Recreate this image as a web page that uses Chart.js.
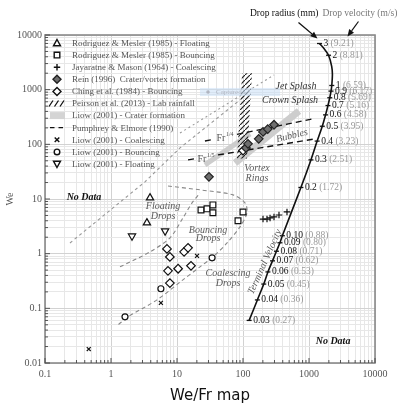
<!DOCTYPE html>
<html><head><meta charset="utf-8">
<script src="https://cdn.jsdelivr.net/npm/chart.js@4.4.1/dist/chart.umd.min.js"></script>
<style>html,body{margin:0;padding:0;background:#fff;}</style>
</head><body>
<canvas id="c" width="400" height="412" style="width:400px;height:412px;display:block"></canvas>
<script>
// ---------------- DATA ----------------
const xTickLabels = ['0.1','1','10','100','1000','10000'];
const yTickLabels = ['0.01','0.1','1','10','100','1000','10000'];

const rmFloatFr = [3.9, 3.5];
const rmFloatWe = [10.5, 3.66];
const rmBounceFr = [23.1, 28.5, 35, 35, 100, 84];
const rmBounceWe = [6.3, 6.6, 7.8, 5.6, 5.8, 4.0];
const jmCoalFr = [201, 231, 257, 295, 351, 464];
const jmCoalWe = [4.3, 4.3, 4.5, 4.7, 5.1, 5.8];
const reinFr = [30.5, 111, 119, 173, 201, 237, 295];
const reinWe = [25.4, 86, 102, 126, 169, 190, 228];
const chingFr = [7.05, 7.8, 12.8, 14.7, 16.3, 10.4, 7.3, 7.8, 100];
const chingWe = [1.22, 0.87, 1.08, 1.28, 0.6, 0.53, 0.485, 0.29, 77];
const liowCoalFr = [20.1, 5.7, 0.46];
const liowCoalWe = [0.91, 0.126, 0.018];
const liowBounceFr = [5.7, 34, 1.63];
const liowBounceWe = [0.228, 0.84, 0.07];
const liowFloatFr = [2.08, 6.6];
const liowFloatWe = [2.1, 2.6];

// Peirson lab rainfall strip (polygon corners)
const peirsonFr = [97, 137, 115, 81, 97];
const peirsonWe = [2000, 2000, 55, 55, 2000];
// Liow crater formation bands
const craterAFr = [26.5, 128];
const craterAWe = [42, 155];
const craterBFr = [75.7, 705];
const craterBWe = [45.7, 408];
// Pumphrey & Elmore lines (Fr^1/4, Fr^1/5) with a gap for their labels
const pe14Fr = [26.5, 33.9, null, 81, 1151];
const pe14We = [115, 122, null, 152, 293];
const pe15Fr = [14.7, 18.7, null, 41.8, 1151];
const pe15We = [51.9, 54.5, null, 64, 124];
// region boundaries (grey dashed)
const bndUpperFr = [0.239, 3.27, 11.1, 90];
const bndUpperWe = [1.57, 20.6, 86, 649];
const bndJetFr = [11.1, 295];
const bndJetWe = [161, 1858];
const bndFloatFr = [1.37, 3.9, 7.83, 12.3, 16.9, 22.3];
const bndFloatWe = [0.574, 1.08, 1.95, 4.5, 8.5, 12.9];
const bndBounceFr = [7.31, 22.3, 70.5, 107, 115, 90, 57.3, 35.1, 22.3, 12.3, 4.98, 1.81, 1.28];
const bndBounceWe = [17.3, 14.7, 11.9, 8.5, 5.57, 3.09, 1.57, 0.873, 0.574, 0.332, 0.143, 0.07, 0.0499];

// Terminal velocity curve
const tvRadius   = ['0.03','0.04','0.05','0.06','0.07','0.08','0.09','0.10','0.2','0.3','0.4','0.5','0.6','0.7','0.8','0.9','1',null,null,'2',null,'3'];
const tvVelocity = ['0.27','0.36','0.45','0.53','0.62','0.71','0.80','0.88','1.72','2.51','3.23','3.95','4.58','5.16','5.69','6.17','6.59',null,null,'8.81',null,'9.21'];
const tvFr = [123.9, 165.1, 206.4, 238.6, 279.9, 321.2, 362.5, 394.7, 754, 1070, 1329, 1590, 1782, 1939, 2063, 2156, 2214, 2263, 2207, 1978, 1684, 1441];
const tvWe = [0.0601, 0.1424, 0.278, 0.463, 0.739, 1.108, 1.582, 2.127, 16.25, 51.9, 114.6, 214.3, 345.8, 512, 711.5, 941, 1193, 1906, 2677, 4264, 5674, 6990];

const legendItems = [
  'Rodriguez & Mesler (1985) - Floating',
  'Rodriguez & Mesler (1985) - Bouncing',
  'Jayaratne & Mason (1964) - Coalescing',
  'Rein (1996)  Crater/vortex formation',
  'Ching et al. (1984) - Bouncing',
  'Peirson et al. (2013) - Lab rainfall',
  'Liow (2001) - Crater formation',
  'Pumphrey & Elmore (1990)',
  'Liow (2001) - Coalescing',
  'Liow (2001) - Bouncing',
  'Liow (2001) - Floating'
];
const legendMarks = ['tri','sq','plus','dfill','dopen','hatch','band','dash','x','circ','tridown'];

const notes = [
  {t:'No Data', x:0.39, y:10.9, kind:'nodata'},
  {t:'No Data', x:2312, y:0.0244, kind:'nodata'},
  {t:'Floating', x:6.14, y:7.18, kind:'region'},
  {t:'Drops', x:6.14, y:4.9, kind:'region'},
  {t:'Bouncing', x:29.5, y:2.72, kind:'region'},
  {t:'Drops', x:29.5, y:1.87, kind:'region'},
  {t:'Coalescing', x:59.3, y:0.428, kind:'region'},
  {t:'Drops', x:59.3, y:0.292, kind:'region'},
  {t:'Vortex', x:163, y:37, kind:'region'},
  {t:'Rings', x:163, y:24.3, kind:'region'},
  {t:'Bubbles', x:552, y:143, kind:'region', rot:-14},
  {t:'Jet Splash', x:635, y:1170, kind:'splash'},
  {t:'Crown Splash', x:516, y:649, kind:'splash'},
  {t:'Terminal Velocity', x:215, y:0.708, kind:'region', rot:-66}
];
const frNotes = [
  {base:'Fr', sup:'1/4', x:46.4, y:126},
  {base:'Fr', sup:'1/5', x:23.9, y:52}
];

// ---------------- HELPERS ----------------
const SERIF = '"Liberation Serif", "Times New Roman", serif';
function pts(xs, ys){ return xs.map((x,i)=>({x:x, y:ys[i]})); }

function makeHatch(){
  const c = document.createElement('canvas'); c.width = 5; c.height = 5;
  const g = c.getContext('2d');
  g.strokeStyle = '#222'; g.lineWidth = 1.2;
  g.beginPath(); g.moveTo(-1,6); g.lineTo(6,-1); g.stroke();
  return g.createPattern(c,'repeat');
}
const hatchPattern = makeHatch();

function marker(ctx, type, x, y){
  ctx.save();
  ctx.strokeStyle = '#111'; ctx.fillStyle = '#fff'; ctx.lineWidth = 1.4; ctx.setLineDash([]);
  ctx.beginPath();
  switch(type){
    case 'tri': ctx.moveTo(x,y-3.5); ctx.lineTo(x+3.5,y+2.8); ctx.lineTo(x-3.5,y+2.8); ctx.closePath(); ctx.fill(); ctx.stroke(); break;
    case 'tridown': ctx.moveTo(x,y+3.5); ctx.lineTo(x+3.5,y-2.8); ctx.lineTo(x-3.5,y-2.8); ctx.closePath(); ctx.fill(); ctx.stroke(); break;
    case 'sq': ctx.rect(x-2.8,y-2.8,5.6,5.6); ctx.fill(); ctx.stroke(); break;
    case 'plus': ctx.moveTo(x-3.2,y); ctx.lineTo(x+3.2,y); ctx.moveTo(x,y-3.2); ctx.lineTo(x,y+3.2); ctx.stroke(); break;
    case 'x': ctx.moveTo(x-2.3,y-2.3); ctx.lineTo(x+2.3,y+2.3); ctx.moveTo(x+2.3,y-2.3); ctx.lineTo(x-2.3,y+2.3); ctx.stroke(); break;
    case 'circ': ctx.arc(x,y,2.8,0,Math.PI*2); ctx.fill(); ctx.stroke(); break;
    case 'dfill': ctx.fillStyle='#6e6e6e'; ctx.strokeStyle='#222'; ctx.moveTo(x,y-4); ctx.lineTo(x+4,y); ctx.lineTo(x,y+4); ctx.lineTo(x-4,y); ctx.closePath(); ctx.fill(); ctx.stroke(); break;
    case 'dopen': ctx.moveTo(x,y-4); ctx.lineTo(x+4,y); ctx.lineTo(x,y+4); ctx.lineTo(x-4,y); ctx.closePath(); ctx.fill(); ctx.stroke(); break;
    case 'hatch':
      ctx.lineWidth = 1.3;
      for (let k=0;k<3;k++){ const xx = x-6+k*5.5; ctx.moveTo(xx-2,y+3); ctx.lineTo(xx+2,y-3); }
      ctx.stroke(); break;
    case 'band': ctx.fillStyle='#d4d4d4'; ctx.fillRect(x-7,y-3.5,15,7); break;
    case 'dash': ctx.lineWidth=1.3; ctx.moveTo(x-7,y); ctx.lineTo(x-2.5,y); ctx.moveTo(x+1.5,y); ctx.lineTo(x+6,y); ctx.stroke(); break;
  }
  ctx.restore();
}

function arrow(ctx, x1,y1,x2,y2){
  ctx.save(); ctx.strokeStyle='#111'; ctx.fillStyle='#111'; ctx.lineWidth=1.2;
  const a = Math.atan2(y2-y1, x2-x1), L=7, W=3;
  const bx = x2 - L*Math.cos(a), by = y2 - L*Math.sin(a);
  ctx.beginPath(); ctx.moveTo(x1,y1); ctx.lineTo(bx,by); ctx.stroke();
  ctx.beginPath(); ctx.moveTo(x2,y2);
  ctx.lineTo(bx + W*Math.sin(a), by - W*Math.cos(a));
  ctx.lineTo(bx - W*Math.sin(a), by + W*Math.cos(a));
  ctx.closePath(); ctx.fill(); ctx.restore();
}

function decadeTicks(min, max){
  const out = [];
  for (let e = Math.round(Math.log10(min)); e < Math.round(Math.log10(max)); e++){
    for (let m=1;m<10;m++) out.push({value: +(m*Math.pow(10,e)).toPrecision(6)});
  }
  out.push({value:max});
  return out;
}
function isDecade(v){ const l = Math.log10(v); return Math.abs(l-Math.round(l))<1e-9; }

// ---------------- PLUGIN ----------------
const decor = {
  id:'decor',
  afterDatasetsDraw(chart){
    const ctx = chart.ctx, ca = chart.chartArea, sx = chart.scales.x, sy = chart.scales.y;
    ctx.save();
    // "Captured" artifact box
    {
      const x1 = sx.getPixelForValue(22.3), x2 = sx.getPixelForValue(364);
      const y1 = sy.getPixelForValue(1074), y2 = sy.getPixelForValue(767);
      ctx.fillStyle='rgba(200,222,245,0.55)'; ctx.fillRect(x1,y1,x2-x1,y2-y1);
      ctx.fillStyle='rgba(150,150,160,0.6)'; ctx.beginPath(); ctx.arc(x1+8,(y1+y2)/2,1.8,0,7); ctx.fill();
      ctx.font = '7px '+SERIF; ctx.textBaseline='middle'; ctx.textAlign='left';
      ctx.fillText('Captured', x1+16, (y1+y2)/2);
    }
    // frame
    ctx.strokeStyle='#8a8a8a'; ctx.lineWidth=1.6; ctx.setLineDash([]);
    ctx.strokeRect(ca.left, ca.top, ca.right-ca.left, ca.bottom-ca.top);
    // inside ticks
    ctx.strokeStyle='#444'; ctx.lineWidth=0.9;
    ctx.beginPath();
    sx.ticks.forEach(t=>{ const p = sx.getPixelForValue(t.value); const L = isDecade(t.value)?5:3; ctx.moveTo(p, ca.bottom); ctx.lineTo(p, ca.bottom-L); });
    sy.ticks.forEach(t=>{ const p = sy.getPixelForValue(t.value); const L = isDecade(t.value)?5:3; ctx.moveTo(ca.left, p); ctx.lineTo(ca.left+L, p); });
    ctx.stroke();

    // legend
    legendItems.forEach((txt,i)=>{
      const y = 43 + 12.1*i;
      marker(ctx, legendMarks[i], 57, y);
      ctx.font = '9px '+SERIF; ctx.fillStyle='#555'; ctx.textAlign='left'; ctx.textBaseline='middle';
      ctx.fillText(txt, 72, y+0.5);
    });

    // region notes
    notes.forEach(n=>{
      const x = sx.getPixelForValue(n.x), y = sy.getPixelForValue(n.y);
      ctx.save(); ctx.translate(x,y); if (n.rot) ctx.rotate(n.rot*Math.PI/180);
      ctx.textAlign='center'; ctx.textBaseline='middle';
      if (n.kind==='nodata'){ ctx.font='italic bold 10px '+SERIF; ctx.fillStyle='#111'; }
      else if (n.kind==='splash'){ ctx.font='italic 10px '+SERIF; ctx.fillStyle='#333'; }
      else { ctx.font='italic 10px '+SERIF; ctx.fillStyle='#5a5a5a'; }
      ctx.fillText(n.t,0,0);
      ctx.restore();
    });
    // Fr labels
    frNotes.forEach(n=>{
      const x = sx.getPixelForValue(n.x), y = sy.getPixelForValue(n.y);
      ctx.font='10px '+SERIF; ctx.fillStyle='#555'; ctx.textAlign='center'; ctx.textBaseline='middle';
      ctx.fillText(n.base, x, y);
      const w = ctx.measureText(n.base).width;
      ctx.font='6px '+SERIF; ctx.textAlign='left';
      ctx.fillText(n.sup, x + w/2 + 0.5, y-4);
    });

    // terminal velocity labels
    const idx = chart.data.datasets.findIndex(d=>d.id==='tv');
    const meta = chart.getDatasetMeta(idx);
    let top = null;
    meta.data.forEach((el,i)=>{
      if (!tvRadius[i]) return;
      const x = el.x + 4, y = el.y;
      ctx.font='9.5px '+SERIF; ctx.textAlign='left'; ctx.textBaseline='middle';
      ctx.fillStyle='#111'; ctx.fillText(tvRadius[i], x, y);
      const w = ctx.measureText(tvRadius[i]+' ').width;
      ctx.fillStyle='#999'; ctx.fillText('('+tvVelocity[i]+')', x+w, y);
      if (tvRadius[i]==='3') top = el;
    });
    // top annotation texts and arrows
    if (top){
      ctx.font='9.5px '+SERIF; ctx.textBaseline='middle';
      ctx.textAlign='right'; ctx.fillStyle='#111'; ctx.fillText('Drop radius (mm)', top.x-1, 13);
      ctx.textAlign='left'; ctx.fillStyle='#777'; ctx.fillText('Drop velocity (m/s)', top.x+3, 13);
      arrow(ctx, top.x-21, top.y-21, top.x-2, top.y-5);
      arrow(ctx, top.x+39, top.y-22, top.x+28, top.y-7);
    }
    // axis titles
    ctx.save(); ctx.translate(10, sy.getPixelForValue(10)); ctx.rotate(-Math.PI/2);
    ctx.font='10px '+SERIF; ctx.fillStyle='#555'; ctx.textAlign='center'; ctx.textBaseline='middle';
    ctx.fillText('We',0,0); ctx.restore();
    ctx.font='15px "DejaVu Sans", sans-serif'; ctx.fillStyle='#111'; ctx.textAlign='center'; ctx.textBaseline='middle';
    ctx.fillText('We/Fr map', (ca.left+ca.right)/2, 396);
    ctx.restore();
  }
};

// ---------------- CHART ----------------
const mkScatter = (xs, ys, style, extra) => Object.assign({
  data: pts(xs, ys), showLine:false, pointStyle: style, pointRadius:4, pointHoverRadius:4,
  pointBackgroundColor:'#fff', pointBorderColor:'#111', pointBorderWidth:1.2, order:0
}, extra||{});
const mkLine = (xs, ys, extra) => Object.assign({
  data: pts(xs, ys), showLine:true, pointRadius:0, pointHoverRadius:0, fill:false,
  borderColor:'#888', borderWidth:1.1, borderDash:[4,3], spanGaps:false, order:3
}, extra||{});

const datasets = [
  mkScatter(rmFloatFr, rmFloatWe, 'triangle', {pointRadius:4.2}),
  mkScatter(rmBounceFr, rmBounceWe, 'rect', {pointRadius:4.1}),
  mkScatter(jmCoalFr, jmCoalWe, 'cross', {pointRadius:3.3}),
  mkScatter(reinFr, reinWe, 'rectRot', {pointBackgroundColor:'#6e6e6e', pointBorderColor:'#222', pointRadius:4.3}),
  mkScatter(chingFr, chingWe, 'rectRot', {pointRadius:4.3}),
  mkScatter(liowCoalFr, liowCoalWe, 'crossRot', {pointRadius:2.8}),
  mkScatter(liowBounceFr, liowBounceWe, 'circle', {pointRadius:3}),
  mkScatter(liowFloatFr, liowFloatWe, 'triangle', {pointRadius:4.2, pointRotation:180}),
  { id:'tv', data: pts(tvFr, tvWe), showLine:true, borderColor:'#111', borderWidth:1.6, tension:0.3,
    pointStyle:'line', pointRotation:0, pointRadius: tvRadius.map(r=>r?2.5:0), pointHoverRadius:0,
    pointBorderColor:'#111', pointBorderWidth:1.3, order:1 },
  mkLine(pe14Fr, pe14We, {borderColor:'#111', borderWidth:1.4, borderDash:[6,4], order:2}),
  mkLine(pe15Fr, pe15We, {borderColor:'#111', borderWidth:1.4, borderDash:[6,4], order:2}),
  mkLine(bndUpperFr, bndUpperWe, {borderDash:[3,3], borderColor:'#999'}),
  mkLine(bndJetFr, bndJetWe, {borderDash:[2,3], borderColor:'#999'}),
  mkLine(bndFloatFr, bndFloatWe, {tension:0.3}),
  mkLine(bndBounceFr, bndBounceWe, {tension:0.3}),
  mkLine(peirsonFr, peirsonWe, {borderWidth:0, borderDash:[], fill:'shape', backgroundColor:hatchPattern, order:4}),
  mkLine(craterAFr, craterAWe, {borderColor:'#cdcdcd', borderWidth:5, borderDash:[], order:5, borderCapStyle:'butt'}),
  mkLine(craterBFr, craterBWe, {borderColor:'#cdcdcd', borderWidth:7, borderDash:[], order:5, borderCapStyle:'butt'})
];

const gridColor = ctx => (ctx.tick && isDecade(ctx.tick.value)) ? '#d2d2d2' : '#e7e7e7';

new Chart(document.getElementById('c'), {
  type:'scatter',
  data:{ datasets },
  options:{
    responsive:false, animation:false, devicePixelRatio:1,
    layout:{ padding:{ top:35, right:25, left:0, bottom:0 } },
    plugins:{ legend:{display:false}, tooltip:{enabled:false}, title:{display:false} },
    scales:{
      x:{ type:'logarithmic', min:0.1, max:10000,
        afterBuildTicks: s => { s.ticks = decadeTicks(0.1, 10000); },
        afterFit: s => { s.height = 49; },
        grid:{ color:gridColor, lineWidth:1, drawTicks:false },
        border:{ display:false },
        ticks:{ autoSkip:false, maxRotation:0, padding:5, color:'#555', font:{family:SERIF, size:10},
          callback:(v)=>{ if(!isDecade(v)) return ''; const i = Math.round(Math.log10(v))+1; return xTickLabels[i]; } }
      },
      y:{ type:'logarithmic', min:0.01, max:10000,
        afterBuildTicks: s => { s.ticks = decadeTicks(0.01, 10000); },
        afterFit: s => { s.width = 45; },
        grid:{ color:gridColor, lineWidth:1, drawTicks:false },
        border:{ display:false },
        ticks:{ autoSkip:false, padding:3, color:'#555', font:{family:SERIF, size:10},
          callback:(v)=>{ if(!isDecade(v)) return ''; const i = Math.round(Math.log10(v))+2; return yTickLabels[i]; } }
      }
    }
  },
  plugins:[decor]
});
</script>
</body></html>
